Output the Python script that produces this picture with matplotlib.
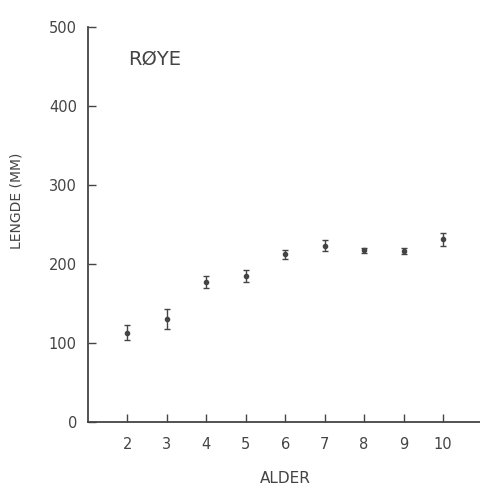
import matplotlib.pyplot as plt

# mean length (mm) by age, with error bar half-widths
alder = [2, 3, 4, 5, 6, 7, 8, 9, 10]
lengde = [113, 130, 177, 185, 212, 223, 217, 216, 231]
feil = [9, 13, 7, 7.5, 5.5, 7, 3, 4, 8]

ink = "#444444"
plt.rcParams["font.family"] = ["DejaVu Sans"]

fig = plt.figure(figsize=(4.81, 4.86), dpi=100)
ax = fig.add_axes([0.183, 0.132, 0.82, 0.813])

ax.errorbar(alder, lengde, yerr=feil, fmt="o", markersize=3, color=ink,
            ecolor=ink, elinewidth=1.0, capsize=2, capthick=1.0)

ax.set_xlim(1, 11)
ax.set_ylim(0, 500)
ax.set_xticks(alder)
ax.set_yticks(range(0, 501, 100))

for side in ("top", "right"):
    ax.spines[side].set_visible(False)
for side in ("left", "bottom"):
    ax.spines[side].set_color(ink)
    ax.spines[side].set_linewidth(1.3)

ax.tick_params(direction="in", length=6, width=1.0, color=ink,
               labelcolor=ink, labelsize=10.5)
ax.tick_params(axis="x", pad=11)
ax.tick_params(axis="y", pad=8)

ax.set_xlabel("ALDER", fontsize=11, color=ink)
ax.xaxis.set_label_coords(0.5, -0.125)
ax.set_ylabel("LENGDE (MM)", fontsize=10, color=ink)
ax.yaxis.set_label_coords(-0.163, 0.56)

ax.text(0.101, 0.904, "RØYE", transform=ax.transAxes, fontsize=14,
        color=ink, va="baseline")

fig.savefig("out.png", dpi=100)
